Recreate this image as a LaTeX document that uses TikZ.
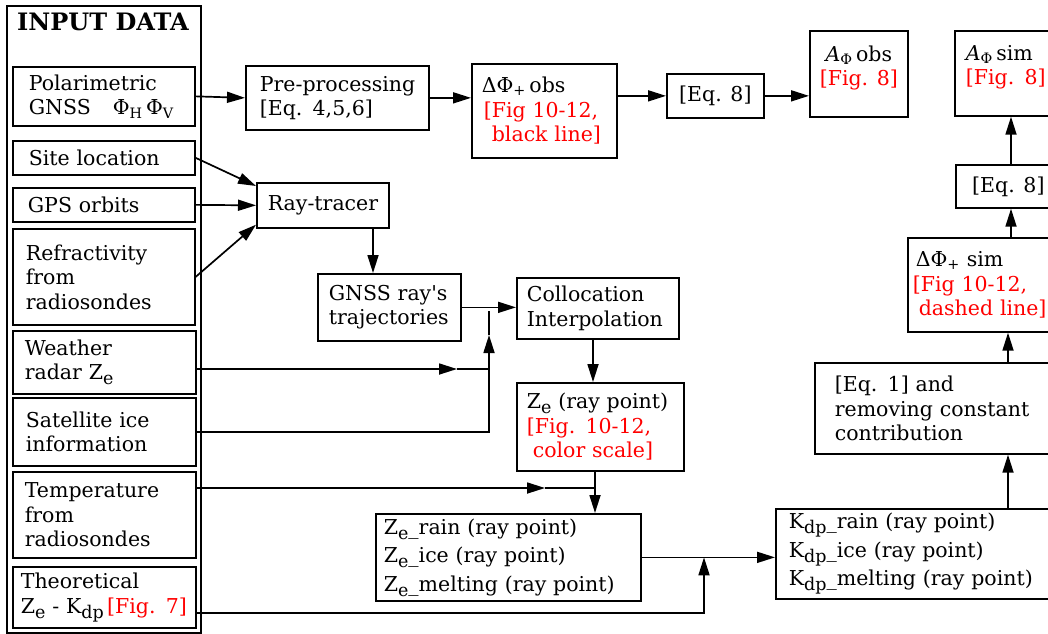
\documentclass[tikz,border=0pt]{standalone}
\usepackage{fontspec}
\setmainfont{DejaVu Serif}
\usetikzlibrary{arrows.meta}
\usetikzlibrary{positioning}
\hyphenpenalty=10000
\exhyphenpenalty=10000
\newcommand{\lowsub}[1]{\raisebox{-5pt}{\fontsize{17.5}{17.5}\selectfont #1}}

\begin{document}
\begin{tikzpicture}[x=1pt,y=-1pt,font=\fontsize{20.5}{24.5}\selectfont]

            % Define styles
            \tikzstyle{box} = [draw, line width=1.7pt, anchor=north west, align=left, inner xsep=12pt, inner ysep=2pt]
            \tikzstyle{cbox} = [draw, line width=1.7pt, anchor=north west, align=center, inner sep=2pt]
            \tikzstyle{arr} = [-{Triangle[length=18pt,width=11pt]}, line width=1.7pt]
            \tikzstyle{ln} = [line width=1.7pt]

            \useasboundingbox (0,0) rectangle (1048,633);
            \clip (0,0) rectangle (1048,633);

            % Input data
            \node[draw, line width=1.7pt, anchor=north west, minimum width=194pt, minimum height=627pt, inner sep=0pt] (inp) at (6,5) {};
            \node[font=\fontsize{24}{28}\selectfont\bfseries] (title) at (103,22) {INPUT DATA};
            \node[box, inner xsep=16pt, text width=150pt, minimum height=59pt] (pol) at (12,66) {Polarimetric\\GNSS\hspace{22pt}Φ\textsubscript{H}\,Φ\textsubscript{V}};
            \node[box, inner xsep=16pt, text width=150pt, minimum height=34pt] (site) at (12,140) {Site location};
            \node[box, inner xsep=15pt, text width=152pt, minimum height=34pt] (gps) at (12,187) {GPS orbits};
            \node[box, inner xsep=13pt, text width=156pt, minimum height=96pt] (refr) at (12,228) {Refractivity\\from\\radiosondes};
            \node[box, inner xsep=12pt, text width=159pt, minimum height=63pt] (radar) at (12,330) {Weather\\radar Z\lowsub{e}};
            \node[box, inner xsep=13pt, text width=157pt, minimum height=68pt] (sat) at (12,397) {Satellite ice\\information};
            \node[box, inner xsep=12pt, text width=159pt, minimum height=86pt] (temp) at (12,471) {Temperature\\from\\radiosondes};
            \node[box, inner xsep=8pt, text width=167pt, minimum height=61pt] (theo) at (12,566) {Theoretical\\\mbox{Z\lowsub{e} - K\lowsub{dp}\,\textcolor{red}{[Fig. 7]}}};

            % Observation chain
            \node[box, inner xsep=14pt, text width=155pt, minimum height=64pt] (pre) at (245,65) {Pre-processing\\{[Eq. 4,5,6]}};
            \node[box, inner xsep=10pt, text width=125pt, minimum height=94pt] (dobs) at (471,63) {ΔΦ\textsubscript{+}\,obs\\\textcolor{red}{\hspace*{2pt}[Fig 10-12,}\\\textcolor{red}{\hspace*{10pt}black line]}};
            \node[cbox, minimum width=97pt, minimum height=44pt] (eqa) at (666,73) {[Eq. 8]};
            \node[cbox, minimum width=98pt, minimum height=86pt] (aobs) at (809,30) {\textit{A}\textsubscript{Φ}\,obs\\\textcolor{red}{[Fig. 8]}\\[-8pt]\mbox{}};

            % Simulation chain
            \node[box, inner xsep=11pt, text width=110pt, minimum height=45pt] (ray) at (256,182) {Ray-tracer};
            \node[box, inner xsep=11pt, text width=121pt, minimum height=67pt] (traj) at (317,273) {GNSS ray\textquotesingle s\\trajectories};
            \node[box, inner xsep=10pt, text width=142pt, minimum height=61pt] (coll) at (516,277) {Collocation\\Interpolation};
            \node[box, inner xsep=10pt, text width=147pt, minimum height=88pt] (zray) at (516,382) {Z\lowsub{e} (ray point)\\\textcolor{red}{[Fig. 10-12,}\\\textcolor{red}{\hspace*{6pt}color scale]}};
            \node[box, inner xsep=8pt, text width=249pt, minimum height=87pt] (zbox) at (375,513) {Z\lowsub{e}\_rain (ray point)\\[4pt]Z\lowsub{e}\_ice (ray point)\\[4pt]Z\lowsub{e}\_melting (ray point)};
            \node[box, inner xsep=13pt, text width=264pt, minimum height=90pt] (kbox) at (775,508) {K\lowsub{dp}\_rain (ray point)\\[4pt]K\lowsub{dp}\_ice (ray point)\\[4pt]K\lowsub{dp}\_melting (ray point)};
            \node[box, inner xsep=20pt, text width=210pt, minimum height=91pt] (eqc) at (814,362) {{[Eq. 1]} and\\removing constant\\contribution};
            \node[box, inner xsep=5pt, text width=140pt, minimum height=94pt] (dsim) at (907,237) {\hspace*{3pt}ΔΦ\textsubscript{+} sim\\\textcolor{red}{[Fig 10-12,}\\\textcolor{red}{\hspace*{6pt}dashed line]}};
            \node[cbox, minimum width=105pt, minimum height=43pt] (eqb) at (955,164) {[Eq. 8]};
            \node[box, inner xsep=11pt, text width=88pt, minimum height=85pt] (asim) at (954,30) {\textit{A}\textsubscript{Φ}\,sim\\\textcolor{red}{[Fig. 8]}\\[-8pt]\mbox{}};

            % Junctions
            \coordinate (jtop) at (489,311);
            \coordinate (jtip) at (489,335);
            \coordinate (rtip) at (457,369);
            \coordinate (ttip) at (545,488);
            \coordinate (tk) at (704,613);
            \coordinate (rs) at (373,227);
            \coordinate (cx) at (593,0);
            \coordinate (zx) at (595,0);
            \coordinate (rx) at (1008,0);
            \coordinate (ry) at (1011,0);

            % Data flows
            \draw[arr] (pol.east) -- (pre.west);
            \draw[arr] (pre.east) -- (pre.east -| dobs.west);
            \draw[arr] (eqa.west -| dobs.east) -- (eqa.west);
            \draw[arr] (eqa.east) -- (eqa.east -| aobs.west);
            \draw[arr] (site.east) -- ([yshift=-4pt]ray.north west);
            \draw[arr] (gps.east) -- (ray.west);
            \draw[arr] (refr.east) -- ([yshift=4pt]ray.south west);
            \draw[arr] (rs) -- (rs |- traj.north);
            \draw[arr] (traj.east) -- (traj.east -| coll.west);
            \draw[arr] (radar.east |- rtip) -- (rtip);
            \draw[ln] (rtip) -- (rtip -| jtip);
            \draw[arr] (sat.east) -| (jtip);
            \draw[ln] (jtip) -- (jtop);
            \draw[arr] (coll.south -| cx) -- (zray.north -| cx);
            \draw[arr] (zray.south -| zx) -- (zbox.north -| zx);
            \draw[arr] (temp.east |- ttip) -- (ttip);
            \draw[ln] (ttip) -- (ttip -| zx);
            \draw[arr] (zbox.east) -- (zbox.east -| kbox.west);
            \draw[arr] (theo.east |- tk) -| (tk |- zbox.east);
            \draw[arr] (kbox.north -| rx) -- (eqc.south -| rx);
            \draw[arr] (eqc.north -| rx) -- (dsim.south -| rx);
            \draw[arr] (dsim.north -| ry) -- (eqb.south -| ry);
            \draw[arr] (eqb.north -| ry) -- (asim.south -| ry);

        \end{tikzpicture}
\end{document}
